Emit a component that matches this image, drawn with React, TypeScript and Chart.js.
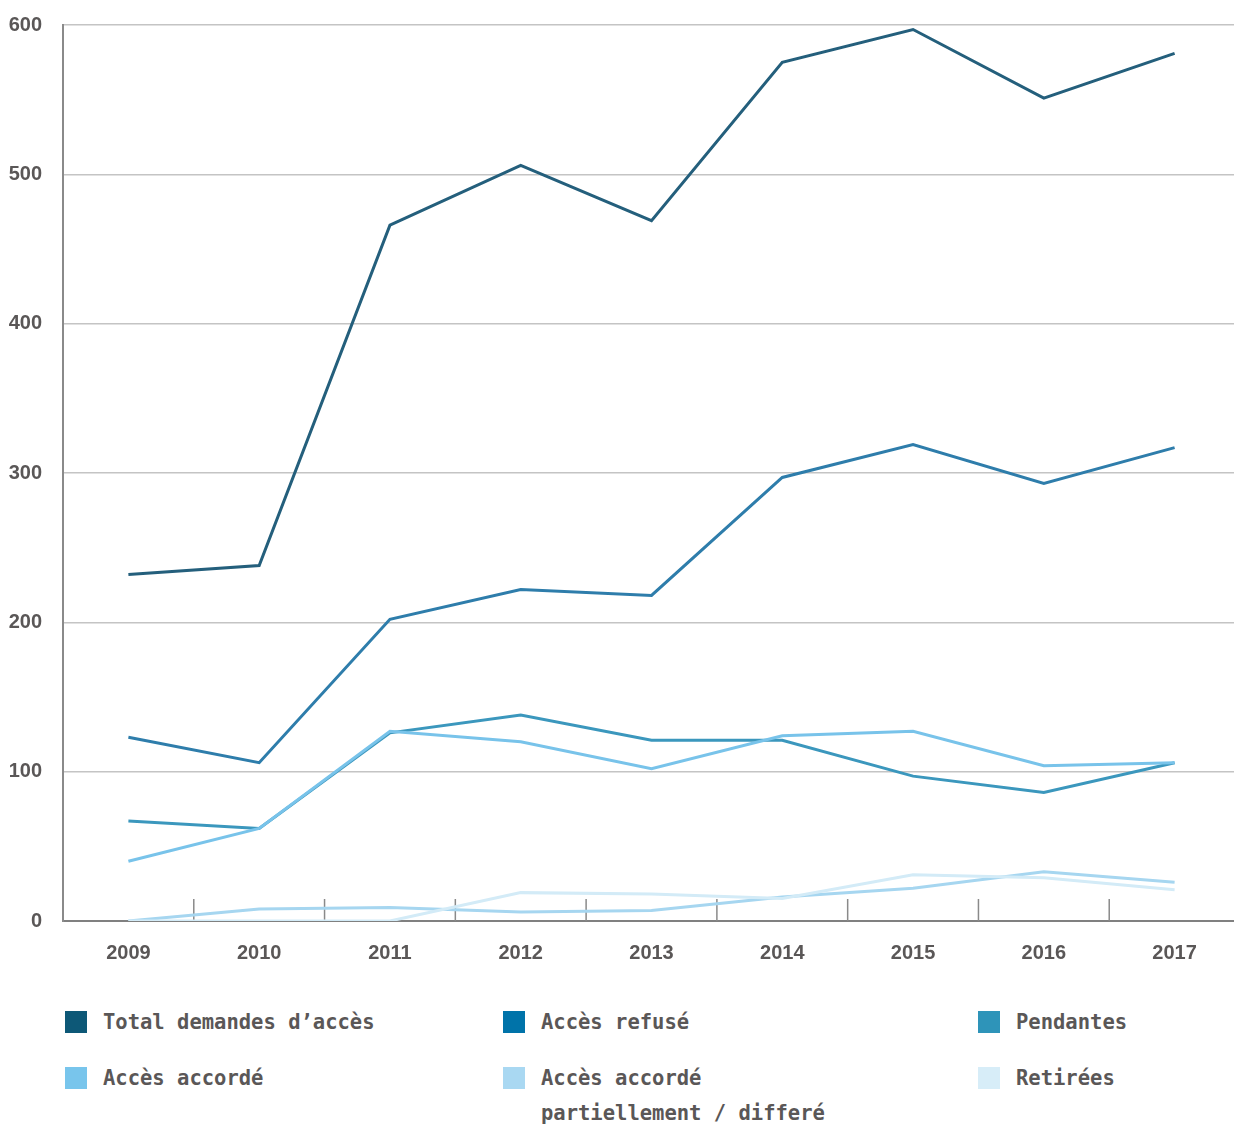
import React, { useEffect, useRef } from "react";
import { Chart, registerables } from "chart.js";

Chart.register(...registerables);

const years = ["2009", "2010", "2011", "2012", "2013", "2014", "2015", "2016", "2017"];
const totalDemandes = [232, 238, 466, 506, 469, 575, 597, 551, 581];
const accesRefuse = [123, 106, 202, 222, 218, 297, 319, 293, 317];
const pendantes = [67, 62, 126, 138, 121, 121, 97, 86, 106];
const accesAccorde = [40, 62, 127, 120, 102, 124, 127, 104, 106];
const accesPartiel = [0, 8, 9, 6, 7, 16, 22, 33, 26];
const retirees = [0, 0, 0, 19, 18, 15, 31, 29, 21];
const yTicks = [0, 100, 200, 300, 400, 500, 600];

const seriesNames = [
  "Total demandes d\u2019accès",
  "Accès refusé",
  "Pendantes",
  "Accès accordé",
  "Accès accordé\npartiellement / differé",
  "Retirées",
];
const lineColors = ["#245f7c", "#2e7dab", "#3b97bd", "#78c3ea", "#a6d6f0", "#d3ebf7"];
const legendColors = ["#0d5877", "#0073a9", "#2e94b9", "#78c5ec", "#a9d8f2", "#d7edf8"];
const seriesData = [totalDemandes, accesRefuse, pendantes, accesAccorde, accesPartiel, retirees];

const categoryTicks = {
  id: "categoryTicks",
  beforeDatasetsDraw(chart: any) {
    const x = chart.scales.x;
    const area = chart.chartArea;
    const ctx = chart.ctx;
    ctx.save();
    ctx.strokeStyle = "#8a8a8a";
    ctx.lineWidth = 1.5;
    for (let i = 0; i < years.length - 1; i++) {
      const p = (x.getPixelForValue(i) + x.getPixelForValue(i + 1)) / 2;
      ctx.beginPath();
      ctx.moveTo(p, area.bottom);
      ctx.lineTo(p, area.bottom - 22);
      ctx.stroke();
    }
    ctx.restore();
  },
};

function App() {
  const ref = useRef<HTMLCanvasElement>(null);

  useEffect(() => {
    if (!ref.current) return;
    const chart = new Chart(ref.current, {
      type: "line",
      data: {
        labels: years,
        datasets: seriesData.map((d, i) => ({
          label: seriesNames[i],
          data: d,
          borderColor: lineColors[i],
          backgroundColor: lineColors[i],
          borderWidth: 3,
          pointRadius: 0,
          tension: 0,
          fill: false,
          order: 6 - i,
        })),
      },
      options: {
        animation: false,
        responsive: false,
        maintainAspectRatio: false,
        layout: { padding: { top: 0, right: 0, left: 0, bottom: 0 } },
        plugins: { legend: { display: false }, tooltip: { enabled: false } },
        scales: {
          x: {
            offset: true,
            grid: { display: false, drawTicks: false },
            border: { display: false },
            ticks: {
              color: "#5a5757",
              font: { family: "Liberation Sans", weight: "bold", size: 20 },
              padding: 20,
            },
          },
          y: {
            min: 0,
            max: 600,
            afterBuildTicks: (scale: any) => {
              scale.ticks = yTicks.map((v) => ({ value: v }));
            },
            afterFit: (scale: any) => {
              scale.width = 63;
            },
            grid: {
              color: (c: any) => (c.tick && c.tick.value === 0 ? "#808080" : "#c4c4c4"),
              lineWidth: (c: any) => (c.tick && c.tick.value === 0 ? 2 : 1.5),
              drawTicks: false,
            },
            border: { display: true, color: "#8a8a8a", width: 2 },
            ticks: {
              color: "#5a5757",
              font: { family: "Liberation Sans", weight: "bold", size: 20 },
              padding: 21,
            },
          },
        },
      },
      plugins: [categoryTicks],
    });
    return () => chart.destroy();
  }, []);

  const legendCols = [65, 503, 978];
  const legendRows = [1011, 1067];

  return (
    <div
      style={{
        position: "absolute",
        left: 0,
        top: 0,
        width: 1234,
        height: 1124,
        overflow: "hidden",
        background: "#ffffff",
      }}
    >
      <canvas ref={ref} width={1240} height={993} style={{ position: "absolute", left: 0, top: -8, width: 1240, height: 993 }} />
      {seriesNames.map((name, i) => {
        const col = i % 3;
        const row = Math.floor(i / 3);
        const lines = name.split("\n");
        return (
          <div
            key={name}
            style={{
              position: "absolute",
              left: legendCols[col],
              top: legendRows[row],
              display: "flex",
              alignItems: "flex-start",
            }}
          >
            <div style={{ width: 22, height: 22, background: legendColors[i], flex: "0 0 auto" }} />
            <div
              style={{
                marginLeft: 16,
                marginTop: -6,
                fontFamily: "'DejaVu Sans Mono', monospace",
                fontWeight: "bold",
                fontSize: 20.5,
                lineHeight: "35px",
                color: "#5a5757",
                whiteSpace: "nowrap",
              }}
            >
              {lines.map((l, j) => (
                <div key={j}>{l}</div>
              ))}
            </div>
          </div>
        );
      })}
    </div>
  );
}

export default App;
